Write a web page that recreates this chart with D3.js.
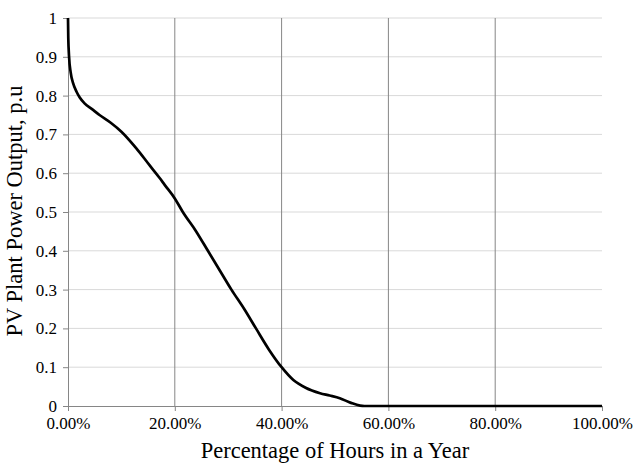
<!DOCTYPE html>
<html>
<head>
<meta charset="utf-8">
<script src="https://cdn.jsdelivr.net/npm/d3@7"></script>
<style>
  body { margin: 0; background: #fff; }
  svg text { font-family: "Liberation Serif", "Times New Roman", serif; fill: #000; }
</style>
</head>
<body>
<div id="chart"></div>
<script>
// percentage of hours in a year (0..1) and PV output in p.u.
var hours = [0, 0.0005, 0.002, 0.005, 0.010, 0.016, 0.022, 0.031, 0.045, 0.059, 0.080, 0.100,
             0.128, 0.153, 0.172, 0.181, 0.200, 0.215, 0.240, 0.262, 0.284, 0.306, 0.330,
             0.352, 0.377, 0.400, 0.422, 0.445, 0.472, 0.490, 0.509, 0.530, 0.547, 0.555, 1.0];
var output = [1.0, 0.95, 0.90, 0.86, 0.83, 0.81, 0.795, 0.78, 0.765, 0.75, 0.73, 0.707,
              0.664, 0.62, 0.587, 0.57, 0.535, 0.50, 0.45, 0.40, 0.35, 0.30, 0.25,
              0.20, 0.144, 0.10, 0.067, 0.047, 0.033, 0.027, 0.02, 0.008, 0.001, 0, 0];
var xTicks = [0, 0.2, 0.4, 0.6, 0.8, 1.0];
var yTicks = [0, 0.1, 0.2, 0.3, 0.4, 0.5, 0.6, 0.7, 0.8, 0.9, 1];

var margin = { top: 18, right: 31, bottom: 58, left: 68 },
    width = 633 - margin.left - margin.right,
    height = 464 - margin.top - margin.bottom;

var svg = d3.select("#chart")
    .append("svg")
        .attr("width", 633)
        .attr("height", 464)
    .append("g")
        .attr("transform", "translate(" + margin.left + "," + margin.top + ")");

var x = d3.scaleLinear().domain([0, 1]).range([0, width]);
var y = d3.scaleLinear().domain([0, 1]).range([height, 0]);

// horizontal gridlines
svg.append("g")
    .selectAll("line")
    .data(yTicks.slice(1))
    .enter().append("line")
    .attr("x1", 0).attr("x2", width)
    .attr("y1", function(d) { return y(d); })
    .attr("y2", function(d) { return y(d); })
    .attr("stroke", "#d9d9d9")
    .attr("stroke-width", 1);

// vertical gridlines
svg.append("g")
    .selectAll("line")
    .data(xTicks.slice(1, -1))
    .enter().append("line")
    .attr("x1", function(d) { return x(d); })
    .attr("x2", function(d) { return x(d); })
    .attr("y1", 0).attr("y2", height)
    .attr("stroke", "#868686")
    .attr("stroke-width", 1);

var xAxis = svg.append("g")
    .attr("transform", "translate(0," + height + ")")
    .call(d3.axisBottom(x).tickValues(xTicks).tickSize(5).tickPadding(6)
        .tickFormat(function(d) { return (d * 100).toFixed(2) + "%"; }));
xAxis.attr("font-family", "Liberation Serif").attr("font-size", 17);
xAxis.select(".domain").attr("stroke", "#868686");
xAxis.selectAll(".tick line").attr("stroke", "#868686");

var yAxis = svg.append("g")
    .call(d3.axisLeft(y).tickValues(yTicks).tickSize(5).tickPadding(6)
        .tickFormat(function(d) { return d === 0 || d === 1 ? d : d.toFixed(1); }));
yAxis.attr("font-family", "Liberation Serif").attr("font-size", 17);
yAxis.select(".domain").attr("stroke", "#868686");
yAxis.selectAll(".tick line").attr("stroke", "#868686");

// duration curve
var pts = hours.map(function(h, i) { return [h, output[i]]; });
var line = d3.line()
    .x(function(d) { return x(d[0]); })
    .y(function(d) { return y(d[1]); })
    .curve(d3.curveMonotoneX);

svg.append("path")
    .datum(pts)
    .attr("fill", "none")
    .attr("stroke", "#000")
    .attr("stroke-width", 2.7)
    .attr("stroke-linejoin", "round")
    .attr("d", line);

// X-axis label
svg.append("text")
    .attr("x", width / 2)
    .attr("y", height + 52)
    .style("text-anchor", "middle")
    .style("font-size", "22.5px")
    .text("Percentage of Hours in a Year");

// Y-axis label
svg.append("text")
    .attr("transform", "rotate(-90)")
    .attr("x", -height / 2 + 1)
    .attr("y", -46)
    .style("text-anchor", "middle")
    .style("font-size", "22.5px")
    .text("PV Plant Power Output, p.u");
</script>
</body>
</html>
